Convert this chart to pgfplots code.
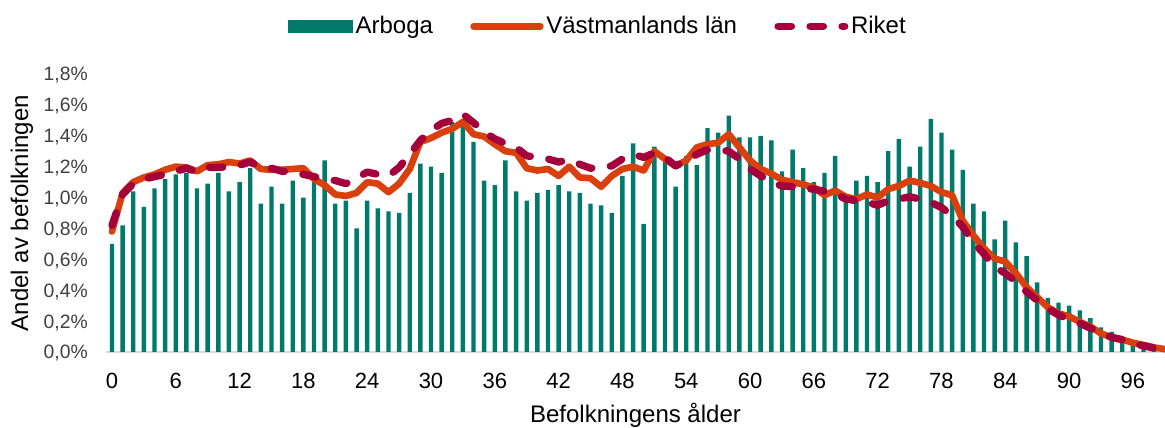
\documentclass[border=0pt]{standalone}
\usepackage{pgfplots}
\usepackage{pgfplotstable}
\pgfplotsset{compat=1.18}
\usepackage{fontspec}
\setmainfont{Liberation Sans}
\definecolor{arb}{HTML}{007B6B}
\definecolor{vast}{HTML}{D9400E}
\definecolor{rik}{HTML}{A3003C}
\pgfplotsset{
  linelegend/.style={legend image code/.code={\draw[##1] (1.5pt,0pt) -- (51.5pt,0pt);}},
  barlegend/.style={legend image code/.code={\fill[arb] (-2pt,-5pt) rectangle (47pt,5pt);}},
}
\pgfplotstableread{
age arb vast riket
0 0.70 0.78 0.82
1 0.82 1.03 1.02
2 1.04 1.10 1.09
3 0.94 1.13 1.12
4 1.06 1.15 1.135
5 1.12 1.18 1.15
6 1.15 1.20 1.17
7 1.16 1.195 1.19
8 1.06 1.17 1.165
9 1.09 1.21 1.195
10 1.16 1.215 1.195
11 1.04 1.23 1.20
12 1.10 1.22 1.21
13 1.19 1.24 1.23
14 0.96 1.185 1.195
15 1.07 1.18 1.19
16 0.96 1.18 1.17
17 1.11 1.185 1.165
18 1.00 1.19 1.15
19 1.10 1.12 1.135
20 1.24 1.08 1.12
21 0.96 1.02 1.11
22 0.98 1.01 1.09
23 0.80 1.03 1.125
24 0.98 1.10 1.165
25 0.93 1.09 1.15
26 0.91 1.035 1.14
27 0.90 1.09 1.195
28 1.03 1.185 1.28
29 1.22 1.36 1.37
30 1.20 1.385 1.435
31 1.16 1.42 1.48
32 1.49 1.445 1.50
33 1.47 1.49 1.54
34 1.36 1.41 1.485
35 1.11 1.395 1.425
36 1.08 1.345 1.38
37 1.24 1.30 1.35
38 1.04 1.29 1.325
39 0.98 1.19 1.27
40 1.03 1.175 1.26
41 1.05 1.185 1.25
42 1.08 1.14 1.23
43 1.04 1.20 1.245
44 1.03 1.13 1.215
45 0.96 1.125 1.19
46 0.95 1.07 1.195
47 0.90 1.14 1.205
48 1.14 1.185 1.25
49 1.35 1.20 1.28
50 0.83 1.175 1.26
51 1.33 1.30 1.29
52 1.24 1.25 1.26
53 1.07 1.205 1.205
54 1.27 1.24 1.24
55 1.21 1.325 1.28
56 1.45 1.345 1.31
57 1.42 1.355 1.31
58 1.53 1.41 1.30
59 1.39 1.325 1.25
60 1.39 1.24 1.185
61 1.40 1.185 1.14
62 1.37 1.155 1.10
63 1.17 1.115 1.075
64 1.31 1.10 1.07
65 1.19 1.085 1.055
66 1.10 1.065 1.055
67 1.16 1.015 1.04
68 1.27 1.045 1.025
69 0.98 1.005 0.99
70 1.11 0.99 0.98
71 1.14 1.02 0.97
72 1.10 1.00 0.95
73 1.30 1.055 0.98
74 1.38 1.075 0.99
75 1.20 1.11 1.005
76 1.33 1.095 0.99
77 1.51 1.075 0.97
78 1.42 1.035 0.935
79 1.31 1.015 0.885
80 1.18 0.85 0.81
81 0.96 0.755 0.71
82 0.91 0.67 0.635
83 0.73 0.605 0.55
84 0.85 0.585 0.51
85 0.71 0.51 0.455
86 0.62 0.42 0.39
87 0.45 0.355 0.335
88 0.35 0.29 0.28
89 0.32 0.25 0.24
90 0.30 0.23 0.21
91 0.27 0.195 0.185
92 0.22 0.165 0.155
93 0.16 0.12 0.12
94 0.13 0.095 0.095
95 0.10 0.08 0.08
96 0.07 0.06 0.055
97 0.05 0.045 0.04
98 0.02 0.03 0.025
99 0.01 0.018 0.015
}\datatable
\begin{document}
\begin{tikzpicture}
\useasboundingbox (0,0) rectangle (873.75pt,321pt);
\begin{axis}[
  at={(79.5pt,57pt)}, anchor=south west,
  scale only axis, width=794.25pt, height=208.5pt,
  xmin=-0.56, xmax=99.02, ymin=0, ymax=1.8,
  clip=false,
  axis x line*=bottom, axis y line*=left,
  x axis line style={draw=black!15, line width=1.5pt, -},
  y axis line style={draw=none},
  major tick length=0pt,
  xtick={0,6,...,96},
  xticklabels={0,6,12,18,24,30,36,42,48,54,60,66,72,78,84,90,96},
  ytick={0,0.2,0.4,0.6,0.8,1.0,1.2,1.4,1.6,1.8},
  yticklabels={{0,0\%},{0,2\%},{0,4\%},{0,6\%},{0,8\%},{1,0\%},{1,2\%},{1,4\%},{1,6\%},{1,8\%}},
  /pgf/number format/assume math mode=true,
  xticklabel style={font=\fontsize{16.5}{18}\selectfont, inner sep=0pt, anchor=north, yshift=-15.5pt},
  yticklabel style={font=\fontsize{14.5}{16}\selectfont, text=black!75, inner sep=0pt, anchor=base east, xshift=-13.5pt, yshift=-5.2pt},
  xlabel={Befolkningens ålder},
  ylabel={Andel av befolkningen},
  xlabel style={font=\fontsize{18}{20}\selectfont, at={(axis description cs:0.5,-0.2266)}, anchor=center},
  ylabel style={font=\fontsize{18}{20}\selectfont, at={(axis description cs:-0.0793,0.5)}, anchor=center},
  legend columns=3,
  legend cell align=left,
  legend style={draw=none, fill=none, at={(axis description cs:0.4646,1.172)}, anchor=center,
    font=\fontsize{18}{20}\selectfont,
    /tikz/every even column/.append style={column sep=26pt}},
]
\addplot[ybar, bar width=3.3pt, fill=arb, draw=none, barlegend]
  table[x=age, y=arb] {\datatable};
\addlegendentry{Arboga}
\addplot[vast, line width=5pt, line cap=round, line join=round, linelegend]
  table[x=age, y=vast] {\datatable};
\addlegendentry{Västmanlands län}
\addplot[rik, line width=5.5pt, line cap=round, line join=round, dash pattern=on 10pt off 14pt, linelegend]
  table[x=age, y=riket] {\datatable};
\addlegendentry{Riket}
\end{axis}
\end{tikzpicture}
\end{document}
